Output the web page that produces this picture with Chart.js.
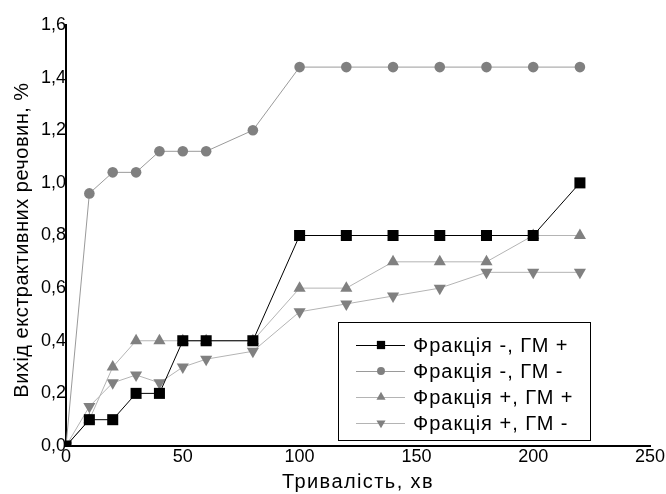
<!DOCTYPE html>
<html>
<head>
<meta charset="utf-8">
<script src="https://cdn.jsdelivr.net/npm/chart.js@4.4.0/dist/chart.umd.min.js"></script>
<style>
  html, body { margin: 0; padding: 0; background: #fff; }
  #wrap { width: 666px; height: 494px; }
</style>
</head>
<body>
<div id="wrap"><canvas id="yieldChart" width="666" height="494"></canvas></div>
<script>
// extraction yield vs. time, four sample variants
const minutes = [0, 10, 20, 30, 40, 50, 60, 80, 100, 120, 140, 160, 180, 200, 220];
const fracMinusGmPlus = [0, 0.1, 0.1, 0.2, 0.2, 0.4, 0.4, 0.4, 0.8, 0.8, 0.8, 0.8, 0.8, 0.8, 1.0];
const fracMinusGmMinus = [0, 0.96, 1.04, 1.04, 1.12, 1.12, 1.12, 1.2, 1.44, 1.44, 1.44, 1.44, 1.44, 1.44, 1.44];
const fracPlusGmPlus = [0, 0.1, 0.3, 0.4, 0.4, 0.4, 0.4, 0.4, 0.6, 0.6, 0.7, 0.7, 0.7, 0.8, 0.8];
const fracPlusGmMinus = [0, 0.15, 0.24, 0.27, 0.24, 0.3, 0.33, 0.36, 0.51, 0.54, 0.57, 0.6, 0.66, 0.66, 0.66];
const seriesNames = ['Фракція -, ГМ +', 'Фракція -, ГМ -', 'Фракція +, ГМ +', 'Фракція +, ГМ -'];
const xTicks = [0, 50, 100, 150, 200, 250];
const yTicks = [0, 0.2, 0.4, 0.6, 0.8, 1.0, 1.2, 1.4, 1.6];
const xTitle = 'Тривалість, хв';
const yTitle = 'Вихід екстрактивних речовин, %';

const toPoints = (vals) => vals.map((v, i) => ({ x: minutes[i], y: v }));

const FONT = "'Liberation Sans', Arial, sans-serif";

// axis titles drawn by hand so letter spacing can match the original
const axisTitles = {
    id: 'axisTitles',
    afterDraw(chart) {
        const ctx = chart.ctx;
        const area = chart.chartArea;
        ctx.save();
        ctx.fillStyle = '#000';
        ctx.font = '20px ' + FONT;
        ctx.textAlign = 'center';
        ctx.textBaseline = 'middle';
        ctx.letterSpacing = '1.4px';
        ctx.fillText(xTitle, (area.left + area.right) / 2, 482);
        ctx.letterSpacing = '0.5px';
        ctx.translate(22, 240);
        ctx.rotate(-Math.PI / 2);
        ctx.fillText(yTitle, 0, 0);
        ctx.restore();
    }
};

// legend drawn inside the plot, bottom right, with a black frame
const boxLegend = {
    id: 'boxLegend',
    afterDraw(chart) {
        const ctx = chart.ctx;
        const left = 338, top = 322, w = 252, h = 118;
        ctx.save();
        ctx.fillStyle = '#fff';
        ctx.fillRect(left, top, w, h);
        ctx.strokeStyle = '#000';
        ctx.lineWidth = 1;
        ctx.strokeRect(left + 0.5, top + 0.5, w, h);
        chart.data.datasets.forEach((ds, i) => {
            const y = top + 23 + i * 26;
            ctx.strokeStyle = ds.borderColor;
            ctx.lineWidth = 1;
            ctx.beginPath();
            ctx.moveTo(356, y + 0.5);
            ctx.lineTo(405, y + 0.5);
            ctx.stroke();
            ctx.fillStyle = ds.pointBackgroundColor;
            ctx.strokeStyle = ds.pointBackgroundColor;
            Chart.helpers.drawPoint(ctx, {
                pointStyle: ds.pointStyle,
                radius: ds.pointRadius * 0.75,
                rotation: ds.pointRotation || 0,
                borderWidth: 0
            }, 381, y);
            ctx.fillStyle = '#000';
            ctx.font = '20px ' + FONT;
            ctx.letterSpacing = '1px';
            ctx.textBaseline = 'middle';
            ctx.textAlign = 'left';
            ctx.fillText(ds.label, 413, y + 1);
            ctx.letterSpacing = '0px';
        });
        ctx.restore();
    }
};

function makeSet(label, vals, line, fill, style, radius, rotation) {
    return {
        label: label,
        data: toPoints(vals),
        borderColor: line,
        borderWidth: 1,
        pointBackgroundColor: fill,
        pointBorderColor: fill,
        pointBorderWidth: 0,
        pointStyle: style,
        pointRadius: radius,
        pointRotation: rotation,
        tension: 0,
        showLine: true
    };
}

new Chart(document.getElementById('yieldChart').getContext('2d'), {
    type: 'scatter',
    data: {
        datasets: [
            makeSet(seriesNames[0], fracMinusGmPlus, '#000000', '#000000', 'rect', 7.8, 0),
            makeSet(seriesNames[1], fracMinusGmMinus, '#9a9a9a', '#808080', 'circle', 5.3, 0),
            makeSet(seriesNames[2], fracPlusGmPlus, '#b4b4b4', '#808080', 'triangle', 7, 0),
            makeSet(seriesNames[3], fracPlusGmMinus, '#b4b4b4', '#808080', 'triangle', 7, 180)
        ]
    },
    options: {
        responsive: false,
        animation: false,
        layout: { padding: { top: 25, right: 16, bottom: 0, left: 0 } },
        plugins: {
            legend: { display: false },
            tooltip: { enabled: false }
        },
        scales: {
            x: {
                type: 'linear',
                min: 0,
                max: 250,
                afterBuildTicks: (scale) => { scale.ticks = xTicks.map(v => ({ value: v })); },
                afterFit: (scale) => { scale.height = 48; },
                grid: { display: false, drawTicks: false },
                border: { display: true, color: '#000', width: 2 },
                ticks: { color: '#000', font: { family: FONT, size: 18 }, padding: 0, maxRotation: 0 }
            },
            y: {
                min: 0,
                max: 1.6,
                afterBuildTicks: (scale) => { scale.ticks = yTicks.map(v => ({ value: v })); },
                afterFit: (scale) => { scale.width = 66; },
                grid: { display: false, drawTicks: false },
                border: { display: true, color: '#000', width: 2 },
                ticks: {
                    color: '#000',
                    font: { family: FONT, size: 18 },
                    padding: 0,
                    callback: (v) => v.toFixed(1).replace('.', ',')
                }
            }
        }
    },
    plugins: [axisTitles, boxLegend]
});
</script>
</body>
</html>
